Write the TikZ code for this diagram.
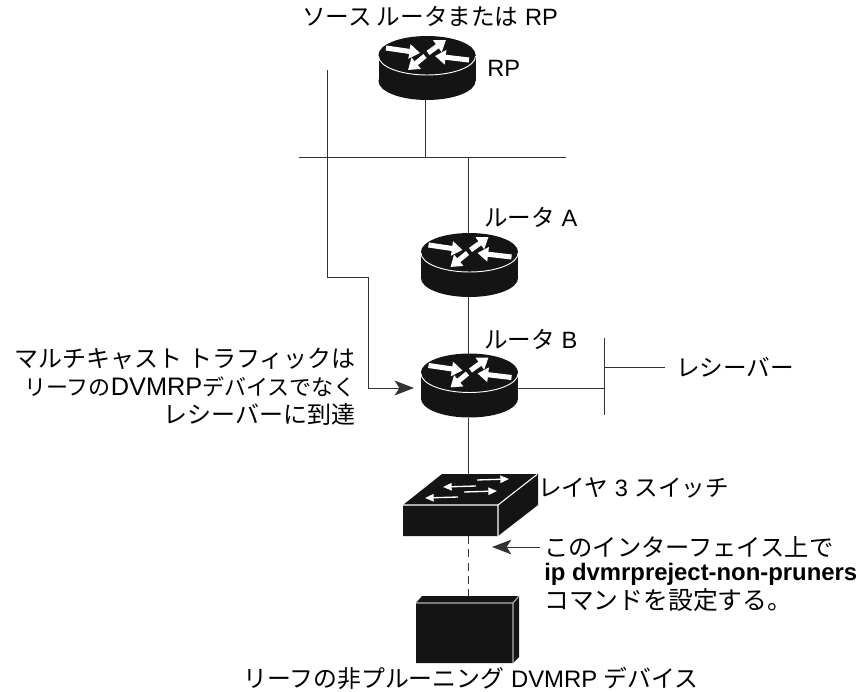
\documentclass[tikz,border=0pt]{standalone}
\usepackage{fontspec}
\setmainfont{Liberation Sans}
\newfontfamily\cjk{Noto Sans CJK JP}
\usetikzlibrary{arrows.meta}
\newcommand{\J}[1]{{\cjk #1}}
\newcommand{\FS}[1]{\fontsize{#1}{21}\selectfont}
\newcommand{\warr}[4]{\draw[white,line width=3.8pt,-{Triangle[length=8pt,width=10.5pt]}] (#1,#2) -- (#3,#4);}
\newcommand{\sarr}[4]{\draw[white,line width=1pt,-{Triangle[length=6.5pt,width=5.5pt]}] (#1,#2) -- (#3,#4);}
\tikzset{
  lbl/.style={inner sep=0pt,font=\fontsize{17.7}{21}\selectfont,text=black},
  hold/.style={inner sep=0pt,outer sep=0pt},
  wire/.style={line width=.75pt,draw=black!80},
  tipped/.style={wire,-{Stealth[length=14.5pt,width=11pt,inset=3.5pt]}},
  router/.pic={
    \fill[black!92] (-48.5,-13) rectangle (48.5,13);
    \fill[black!92] (0,13) ellipse [x radius=36.4pt,y radius=14.25pt];
    \fill[black!92] (0,-13) ellipse [x radius=36.4pt,y radius=14.25pt];
    \draw[white,line width=.7pt] (-48.5,-12) arc [start angle=180,end angle=360,x radius=36.4pt,y radius=14.25pt];
    \warr{-41}{-20}{-7}{-15}
    \warr{1}{-15}{19}{-28}
    \warr{42}{-8}{8}{-12}
    \warr{-2}{-12}{-19}{2}
  }
}
\begin{document}
\begin{tikzpicture}[x=.75pt,y=-.75pt]
\useasboundingbox (0,0) rectangle (858,692);
% routers
\node[hold,minimum width=72.75pt,minimum height=48pt] (rp) at (427,68) {};
\node[hold,minimum width=72.75pt,minimum height=48pt] (ra) at (469.5,265) {};
\node[hold,minimum width=72.75pt,minimum height=48pt] (rb) at (469.5,385.5) {};
\pic at (rp.center) {router};
\pic at (ra.center) {router};
\pic at (rb.center) {router};
% switch
\node[hold,minimum width=101pt,minimum height=46.5pt] (sw) at (470.5,505) {};
\fill[black!92] (403,505) -- (442,474) -- (538,474) -- (538,505) -- (498,536) -- (403,536) -- cycle;
\draw[white,line width=.8pt] (403,505) -- (498,505) -- (537,474.5) (498,505) -- (498,536);
\sarr{476}{486}{443}{487}
\sarr{477}{480}{509}{479}
\sarr{464}{492}{497}{491}
\sarr{458}{497}{425}{498}
% device
\node[hold,minimum width=77pt,minimum height=50pt] (dev) at (467.5,629.5) {};
\fill[black!92] (416,603) -- (422,596) -- (519,596) -- (519,657) -- (513,663) -- (416,663) -- cycle;
\draw[black!30,line width=.8pt] (416,603) -- (513,603) -- (513,663) (513,603) -- (519,596);
% coordinates
\coordinate (busL) at (299,158);
\coordinate (busR) at (566,158);
\coordinate (busP) at (425,158);
\coordinate (busA) at (468,158);
\coordinate (pathTop) at (327,70);
\coordinate (pathC1) at (327,277);
\coordinate (pathC2) at (368,277);
\coordinate (pathC3) at (368,388);
\coordinate (pathEnd) at (414,388);
\coordinate (tapJ) at (604,388);
\coordinate (tapT) at (604,338);
\coordinate (tapB) at (604,415);
\coordinate (tapM) at (604,367);
\coordinate (tapE) at (665,367);
\coordinate (noteStart) at (540,547);
\coordinate (noteEnd) at (492,547);
% connectors
\draw[wire] (busL) -- (busR);
\draw[wire] (busP |- rp.south) -- (busP);
\draw[wire] (busA) -- (busA |- ra.north);
\draw[wire] (busA |- ra.south) -- (busA |- rb.north);
\draw[wire] (busA |- rb.south) -- (busA |- sw.north);
\draw[wire] (rb.east |- tapJ) -- (tapJ);
\draw[wire] (tapT) -- (tapB);
\draw[wire] (tapM) -- (tapE);
\draw[wire,dash pattern=on 6pt off 4pt] (busA |- sw.south) -- (busA |- dev.north);
\draw[tipped] (pathTop) -- (pathC1) -- (pathC2) -- (pathC3) -- (pathEnd);
\draw[tipped] (noteStart) -- (noteEnd);
% labels
\node[lbl] (t1) at (430,16) {\J{ソース ルータまたは} RP};
\node[lbl,anchor=west] (t2) at (487,68) {RP};
\node[lbl,anchor=west] (t3) at (484,217) {\J{ルータ} A};
\node[lbl,anchor=west] (t4) at (484,339) {\J{ルータ} B};
\node[lbl,anchor=west] (t5) at (676,367) {\J{レシーバー}};
\node[lbl,anchor=east,align=right] (t6) at (356,386.5) {{\FS{18}\J{マルチキャスト トラフィックは}}\\{\FS{16.5}\J{リーフの}\FS{19}DVMRP\FS{16.5}\J{デバイスでなく}}\\{\FS{18}\J{レシーバーに到達}}};
\node[lbl,anchor=west] (t7) at (538,488) {\J{レイヤ} 3 \J{スイッチ}};
\node[lbl,anchor=west,font=\FS{18.2}] (t8) at (544,547) {\J{このインターフェイス上で}};
\node[lbl,anchor=west,font=\FS{17.9}] (t9) at (544,574) {\textbf{ip dvmrpreject-non-pruners}};
\node[lbl,anchor=west,font=\FS{18.6}] (t10) at (544,600) {\J{コマンドを設定する。}};
\node[lbl,font=\FS{17.9}] (t11) at (471,678) {\J{リーフの非プルーニング} DVMRP \J{デバイス}};
\end{tikzpicture}
\end{document}
